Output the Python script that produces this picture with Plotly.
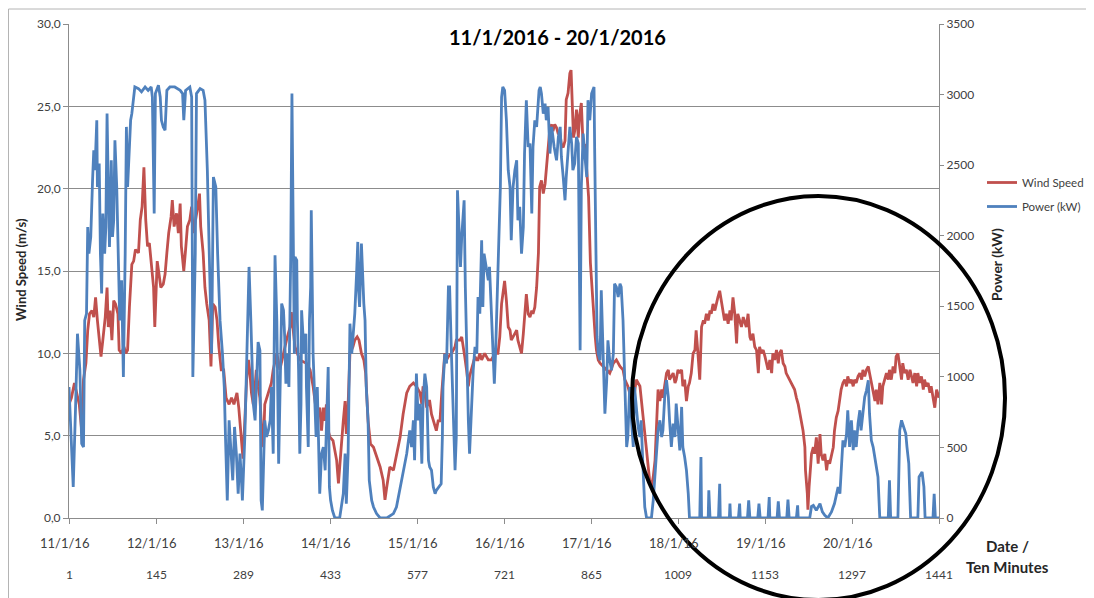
import plotly.graph_objects as go

# ---------------- DATA ----------------
# x = ten-minute sample number (1 .. 1441)
power_idx = [
    1, 4, 8, 12, 15, 19, 22, 25, 27, 30,
    32, 34, 37, 40, 42, 44, 47, 48, 51, 53,
    55, 57, 60, 62, 64, 66, 68, 71, 73, 75,
    77, 80, 83, 85, 88, 91, 94, 96, 98, 100,
    103, 105, 108, 110, 116, 121, 127, 132, 137, 139,
    142, 144, 149, 152, 154, 157, 160, 163, 168, 176,
    185, 189, 191, 194, 201, 204, 206, 210, 212, 218,
    223, 226, 230, 235, 237, 240, 244, 247, 251, 255,
    258, 260, 263, 266, 269, 272, 275, 278, 281, 284,
    287, 288, 292, 295, 299, 302, 304, 306, 309, 311,
    314, 317, 319, 321, 323, 325, 328, 331, 334, 336,
    339, 341, 342, 345, 346, 348, 351, 353, 356, 358,
    360, 362, 365, 368, 370, 372, 374, 375, 378, 379,
    381, 383, 385, 386, 389, 390, 393, 394, 397, 399,
    401, 402, 405, 407, 410, 412, 414, 416, 419, 422,
    425, 427, 430, 432, 434, 437, 441, 449, 453, 455,
    458, 460, 463, 466, 469, 471, 474, 477, 479, 480,
    482, 485, 487, 489, 491, 493, 496, 498, 502, 505,
    510, 516, 527, 538, 543, 549, 554, 560, 565, 568,
    571, 573, 576, 579, 582,
    585, 587, 590, 593, 596, 598, 601, 604, 607, 609,
    613, 617, 619, 620, 623, 626, 629, 631, 634, 637,
    640, 642, 644, 646, 649, 651, 653, 655, 657, 659,
    662, 664, 667, 670, 673, 676, 678, 681, 684, 686,
    688, 690, 693, 695, 697, 699, 701, 705, 707, 710,
    712, 715, 717, 719, 722, 725, 728, 731, 733, 736,
    739, 742, 744, 747, 750, 753, 755, 758, 761, 764,
    767, 769, 772, 775, 779, 781, 783, 786, 789, 791,
    794, 797, 800, 804, 808, 811, 814, 816, 819, 822,
    824, 827, 830, 833, 835, 838, 841, 844, 845, 847,
    849, 852, 855, 858, 860, 863, 866,
    870, 871, 873, 875, 877, 880, 882, 884, 886, 888,
    891, 893, 896, 899, 902, 904, 907, 910, 913, 915,
    918, 921, 924, 926, 929, 932, 935, 937, 940, 943,
    946, 948, 951, 954, 957, 965, 968, 971, 973, 976,
    979, 982, 984, 987, 990, 993, 995, 998, 1001, 1004,
    1006, 1009, 1012, 1015, 1017, 1020, 1023, 1026, 1028, 1045,
    1047, 1048, 1059, 1060, 1062, 1076, 1078, 1079, 1094, 1095,
    1096, 1109, 1111, 1112, 1124, 1126, 1128, 1141, 1143, 1145,
    1158, 1160, 1161,
    1173, 1175, 1177, 1189, 1191, 1193, 1205, 1207, 1208, 1227,
    1230, 1233, 1238, 1244, 1248, 1252, 1257, 1263, 1268, 1274,
    1277, 1279, 1282, 1285, 1288, 1290, 1293, 1296, 1299, 1301,
    1304, 1307, 1310, 1312, 1315, 1318, 1321, 1324, 1326, 1329,
    1332, 1335, 1337, 1340, 1343, 1357, 1359, 1361, 1373, 1376,
    1379, 1383, 1386, 1388, 1391, 1394, 1406, 1408, 1411, 1413,
    1416, 1418, 1431, 1433, 1435, 1441,
]
power_kw = [
    928, 574, 220, 810, 1306, 1046, 527, 503, 1400, 1448,
    2062, 1873, 1991, 2393, 2605, 2464, 2818, 2345, 2511, 1873,
    1590, 2157, 1873, 2062, 2865, 2345, 1920, 2534, 1991, 2109,
    2676, 2345, 1873, 1400, 1684, 999, 1873, 2771, 2345, 2534,
    2818, 2865, 3007, 3054, 3042, 3019, 3054, 3030, 3054, 2983,
    2157, 3007, 3066, 2983, 2818, 2771, 2747, 3030, 3054, 3054,
    3030, 3007, 2818, 3030, 3054, 2983, 999, 1873, 3007, 3042,
    3030, 2960, 2464, 1400, 1164, 2416, 2345, 1873, 1400, 1164,
    928, 574, 125, 692, 479, 267, 645, 456, 172, 456,
    220, 125, 574, 1046, 1779, 1401, 1046, 810, 692, 928,
    1247, 1188, 125, 54, 503, 692, 574, 621, 692, 928,
    456, 1353, 1861, 1401, 928, 385, 1046, 1519, 1472, 1283,
    952, 1164, 928, 1849, 3007, 1873, 1164, 1849, 1826, 1401,
    1046, 456, 810, 1472, 1283, 1164, 1306, 928, 503, 1401,
    1637, 2180, 1164, 928, 574, 928, 456, 172, 456, 503,
    338, 574, 1070, 220, 125, 54, 0, 0, 102, 172,
    456, 102, 456, 1377, 1164, 1283, 1448, 1731, 1956, 1637,
    1495, 1944, 1684, 1519, 1401, 928, 692, 267, 125, 78,
    31, 0, 0, 31, 78, 220, 338, 456, 621, 503,
    692, 409, 1023, 692, 810,
    385, 810, 1023, 928, 409, 361, 338, 220, 172, 196,
    220, 243, 574, 928, 1164, 1094, 1637, 1637, 1164, 692,
    338, 574, 2322, 2109, 1779, 1991, 2109, 2251, 1637, 1164,
    692, 456, 810, 1046, 1212, 1164, 1566, 1448, 1968, 1495,
    1873, 1826, 1731, 1684, 1779, 1542, 1283, 952, 1164, 1637,
    1920, 2345, 2983, 3054, 3030, 2818, 2464, 2345, 1968, 2345,
    2464, 2534, 2109, 2204, 1873, 2062, 2582, 2960, 2629, 2653,
    2157, 2629, 2818, 2771, 3030, 3054, 3007, 2865, 2936, 2818,
    2912, 2582, 2771, 2629, 2534, 2700, 2771, 2558, 2416, 2251,
    2416, 2582, 2771, 2653, 2464, 2511, 2700, 2653, 1873, 1188,
    2345, 2723, 2558, 2416, 2960, 2818, 3007,
    3054, 2629, 1873, 1283, 1164, 1117, 1613, 1283, 928, 739,
    976, 1259, 1117, 1046, 1164, 1660, 1637, 1566, 1660, 1637,
    1401, 928, 503, 574, 928, 692, 503, 928, 763, 645,
    574, 692, 361, 78, 0, 0, 125, 291, 456, 621,
    692, 574, 621, 857, 976, 857, 692, 503, 668, 574,
    810, 621, 479, 787, 503, 432, 338, 172, 0, 0,
    432, 0, 0, 196, 0, 0, 243, 0, 0, 102,
    0, 0, 102, 0, 0, 125, 0, 0, 102, 0,
    0, 149, 0,
    0, 118, 0, 0, 130, 0, 0, 90, 0, 0,
    83, 90, 54, 102, 43, 19, 0, 43, 102, 220,
    172, 314, 550, 503, 598, 763, 503, 692, 480, 621,
    503, 669, 763, 621, 739, 857, 905, 976, 739, 550,
    503, 432, 361, 291, 0, 0, 267, 0, 0, 621,
    692, 645, 598, 503, 385, 0, 0, 291, 314, 326,
    220, 0, 0, 172, 0, 0,
]

wind_idx = [
    1, 5, 10, 14, 18, 22, 25, 29, 32, 35,
    39, 42, 45, 48, 51, 54, 57, 61, 64, 66,
    69, 72, 75, 78, 82, 84, 88, 92, 95, 98,
    101, 105, 108, 111, 116, 119, 122, 125, 128, 131,
    134, 138, 141, 143, 147, 150, 153, 157, 160, 163,
    166, 170, 172, 175, 179, 182, 185, 187, 191, 194,
    197, 201, 204, 207, 211, 214, 217, 219, 223, 226,
    229, 233, 236, 239, 243, 246, 249, 253, 257, 261,
    266, 270, 274, 279, 282, 286, 289,
    292, 295, 298, 300, 303, 306, 309, 311, 314, 317,
    320, 323, 325, 328, 331, 334, 336, 339, 345, 350,
    356, 361, 367, 369, 375, 383, 394, 400, 405, 411,
    414, 416, 419, 422, 425, 427, 430, 433, 438, 444,
    447, 449, 452, 455, 458, 460, 463, 466, 471, 474,
    478, 481, 485, 489, 492, 496, 500, 505, 510, 516,
    521, 524, 527, 532, 538, 543, 549, 554, 560, 565,
    571, 576,
    579, 582, 585, 587, 590, 593, 596, 598, 601, 604,
    607, 609, 612, 615, 618, 620, 623, 626, 629, 634,
    640, 642, 648, 651, 653, 656, 659, 662, 664, 667,
    670, 673, 676, 678, 681, 684, 689, 695, 700, 706,
    711, 714, 717, 720, 722, 725, 728, 731, 733, 736,
    739, 742, 744, 747, 750, 753, 755, 758, 761, 764,
    767, 769, 772, 775, 778, 780, 783, 786, 789, 791,
    794, 797, 800, 802, 805, 808, 811, 813, 816, 819,
    822, 824, 827, 830, 832, 834, 836, 838, 841, 844,
    846, 849, 852, 855, 858, 861, 864, 868,
    872, 874, 877, 880, 885, 891, 896, 902, 907, 913,
    918, 921, 924, 926, 929, 932, 935, 937, 940, 943,
    946, 948, 951, 954, 957, 960, 962, 965, 968, 971,
    973, 976, 979, 982, 984, 987, 990, 993, 995, 998,
    1001, 1004, 1006, 1009, 1012, 1015, 1017, 1020, 1023, 1026,
    1028, 1031, 1034, 1037, 1039, 1042, 1045, 1048, 1051, 1053,
    1056, 1059, 1062, 1064, 1067, 1070, 1073, 1075, 1078, 1081,
    1084, 1086, 1089, 1092, 1095, 1097, 1100, 1103, 1106, 1108,
    1111, 1114, 1117, 1119, 1122, 1125, 1128, 1130, 1133, 1136,
    1139, 1142, 1144, 1147, 1150, 1153, 1155,
    1158, 1161, 1164, 1166, 1169, 1172, 1175, 1177, 1180, 1183,
    1186, 1188, 1191, 1194, 1197, 1199, 1202, 1205, 1208, 1211,
    1213, 1216, 1219, 1220, 1223, 1224, 1226, 1228, 1230, 1233,
    1235, 1238, 1241, 1244, 1246, 1249, 1252, 1255, 1257, 1260,
    1263, 1266, 1268, 1271, 1274, 1277, 1279, 1282, 1285, 1288,
    1290, 1293, 1296, 1299, 1301, 1304, 1307, 1310, 1313, 1315,
    1318, 1321, 1324, 1326, 1329, 1332, 1335, 1337, 1340, 1343,
    1346, 1348, 1351, 1354, 1357, 1359, 1362, 1365, 1368, 1370,
    1373, 1376, 1379, 1381, 1384, 1387, 1390, 1393, 1395, 1398,
    1401, 1404, 1406, 1409, 1412, 1415, 1417, 1420, 1423, 1426,
    1428, 1431, 1434, 1437, 1441,
]
wind_speed = [
    6.9, 7.3, 8.2, 7.6, 6.9, 5.3, 8.4, 9.4, 11.4, 12.4,
    12.6, 12.2, 13.4, 12.0, 10.8, 9.8, 10.8, 12.2, 14.0, 11.6,
    12.6, 10.8, 13.2, 13.0, 12.4, 10.2, 10.0, 10.4, 10.0, 10.2,
    12.8, 15.4, 15.6, 16.3, 16.1, 18.1, 18.9, 21.3, 18.1, 16.5,
    16.7, 15.2, 14.0, 11.6, 15.6, 14.8, 14.0, 14.2, 14.8, 16.1,
    17.3, 18.3, 19.3, 17.7, 18.5, 17.3, 19.1, 16.5, 15.0, 16.3,
    17.7, 18.1, 18.9, 17.3, 18.1, 18.9, 19.7, 17.7, 16.1, 14.0,
    13.0, 12.0, 9.2, 13.0, 12.8, 12.0, 10.4, 9.0, 9.0, 7.3,
    6.9, 7.3, 6.9, 7.6, 6.7, 4.9, 3.6,
    5.9, 8.4, 9.6, 9.0, 7.6, 6.9, 8.0, 9.0, 8.0, 7.3,
    5.3, 4.3, 6.9, 7.3, 7.6, 8.0, 8.2, 9.0, 10.0, 9.0,
    10.0, 10.8, 11.6, 12.5, 10.4, 9.6, 9.4, 9.0, 8.0, 6.3,
    6.5, 6.7, 5.3, 6.7, 5.9, 6.9, 5.3, 4.9, 4.7, 3.5,
    2.1, 3.3, 4.5, 5.9, 7.1, 5.1, 6.9, 10.0, 10.4, 10.8,
    11.0, 10.8, 10.0, 9.6, 8.8, 5.9, 4.5, 4.3, 3.7, 3.1,
    2.3, 1.1, 1.9, 3.1, 2.9, 3.9, 4.9, 6.3, 7.6, 8.0,
    8.2, 8.0,
    7.8, 7.6, 6.9, 8.0, 7.6, 6.7, 7.1, 7.1, 6.3, 5.9,
    5.5, 5.3, 5.9, 5.9, 7.6, 8.4, 10.0, 9.6, 9.8, 10.0,
    10.4, 10.8, 10.8, 11.0, 10.4, 9.8, 9.0, 8.0, 8.6, 9.0,
    9.4, 9.8, 9.6, 9.6, 10.0, 9.6, 10.0, 9.6, 9.6, 10.0,
    10.0, 11.0, 13.0, 14.0, 14.4, 13.2, 11.6, 11.4, 10.8, 11.0,
    11.2, 11.4, 10.8, 10.4, 10.0, 11.2, 12.4, 13.6, 12.4, 12.2,
    12.6, 12.4, 12.8, 14.0, 16.1, 20.1, 20.5, 19.7, 20.3, 21.1,
    22.1, 23.7, 23.9, 23.5, 23.9, 23.7, 23.3, 23.5, 22.7, 22.5,
    22.9, 25.4, 25.8, 27.0, 27.2, 25.0, 23.1, 23.5, 24.8, 23.1,
    24.4, 25.2, 22.5, 22.7, 21.1, 19.5, 15.5, 13.0,
    11.0, 10.2, 9.6, 9.4, 9.2, 9.0, 8.8, 9.4, 9.6, 9.2,
    9.0, 8.4, 8.2, 8.0, 7.6, 7.3, 8.0, 7.6, 8.4, 8.2,
    8.0, 7.3, 6.3, 5.3, 3.9, 3.1, 2.3, 1.9, 2.5, 3.5,
    5.5, 7.8, 7.1, 7.8, 7.3, 8.0, 8.8, 9.0, 8.4, 8.6,
    8.8, 8.2, 8.4, 9.0, 8.8, 9.0, 8.0, 8.4, 7.1, 8.0,
    8.2, 8.8, 10.0, 10.2, 11.4, 10.0, 8.4, 11.6, 12.0, 11.8,
    12.4, 12.0, 12.6, 12.4, 13.0, 12.6, 13.2, 13.4, 13.8, 13.2,
    12.6, 12.0, 12.4, 11.8, 12.6, 12.0, 13.4, 12.4, 10.6, 12.4,
    12.0, 11.6, 12.2, 12.0, 11.6, 12.4, 11.0, 10.8, 11.2, 10.4,
    10.2, 8.8, 10.4, 10.0, 10.2, 9.8, 9.4,
    9.0, 9.6, 8.8, 10.0, 9.6, 10.2, 9.4, 10.0, 10.2, 9.4,
    9.2, 8.8, 8.6, 8.4, 8.2, 8.0, 7.8, 7.3, 6.9, 6.3,
    5.9, 5.3, 4.3, 2.9, 1.5, 0.5, 1.9, 3.3, 3.9, 4.3,
    3.9, 4.9, 3.3, 5.1, 3.9, 3.5, 3.9, 2.9, 3.5, 3.3,
    3.9, 4.3, 5.3, 6.1, 6.5, 7.3, 7.8, 8.2, 8.4, 8.0,
    8.6, 8.2, 8.4, 8.0, 8.4, 8.2, 8.6, 8.8, 8.4, 9.0,
    8.6, 9.0, 9.2, 8.8, 8.2, 7.8, 7.1, 7.8, 6.9, 8.2,
    6.9, 8.0, 8.4, 8.8, 8.4, 9.0, 8.4, 9.2, 8.8, 9.8,
    10.0, 9.0, 8.4, 9.4, 8.8, 9.0, 8.4, 9.0, 8.6, 8.2,
    8.8, 8.0, 8.8, 8.2, 8.6, 7.8, 8.4, 8.0, 8.2, 7.6,
    8.0, 7.3, 6.7, 7.8, 7.3,
]

tick_index = [1, 145, 289, 433, 577, 721, 865, 1009, 1153, 1297, 1441]
tick_dates = ["11/1/16", "12/1/16", "13/1/16", "14/1/16", "15/1/16",
              "16/1/16", "17/1/16", "18/1/16", "19/1/16", "20/1/16"]
left_ticks = [0, 5, 10, 15, 20, 25, 30]
left_tick_text = ["0,0", "5,0", "10,0", "15,0", "20,0", "25,0", "30,0"]
right_ticks = [0, 500, 1000, 1500, 2000, 2500, 3000, 3500]

assert len(power_idx) == len(power_kw)
assert len(wind_idx) == len(wind_speed)

# ---------------- FIGURE ----------------
FONT = "Lato"
TXT = "#404040"
GRID = "#8c8c8c"
RED = "#C0504D"
BLUE = "#4F81BD"

fig = go.Figure()
fig.add_trace(go.Scatter(x=wind_idx, y=wind_speed, mode="lines", name="Wind Speed",
                         line=dict(color=RED, width=2.8), legendgroup="a", yaxis="y"))
fig.add_trace(go.Scatter(x=power_idx, y=power_kw, mode="lines", name="Power (kW)",
                         line=dict(color=BLUE, width=2.8), legendgroup="b", yaxis="y2"))

# the page body adds an 8 px offset; the figure is sized so that it ends at the window edge
OFF = 8
W, H = 1094 - OFF, 598 - OFF
L, R, T, B = 61, 155, 16, 80
pw, ph = W - L - R, H - T - B


def px(x):
    """window pixel x -> paper x"""
    return (x - OFF - L) / pw


def py(y):
    """window pixel y -> paper y"""
    return (H - B - (y - OFF)) / ph


def note(x, y, text, size, color=TXT, xref="paper", angle=0, xshift=0):
    return dict(x=x, y=py(y), xref=xref, yref="paper", text=text, showarrow=False,
                xanchor="center", yanchor="middle", textangle=angle, xshift=xshift,
                font=dict(family=FONT, size=size, color=color))


annotations = []
for i, d in zip(tick_index, tick_dates):
    annotations.append(note(i, 543, d, 13, xref="x", xshift=-5))
for i in tick_index:
    annotations.append(note(i, 574, str(i), 12, xref="x"))
annotations += [
    note(px(557), 37, "<b>11/1/2016 - 20/1/2016</b>", 20, color="#000000"),
    note(px(21), 270, "<b>Wind Speed (m/s)</b>", 13, color="#262626", angle=-90),
    note(px(996), 265, "<b>Power (kW)</b>", 14, color="#262626", angle=-90),
    note(px(1007), 546, "<b>Date /</b>", 15, color="#262626"),
    note(px(1007), 567, "<b>Ten Minutes</b>", 15, color="#262626"),
]

shapes = [
    # light outer chart frame (left and top edges visible)
    dict(type="rect", xref="paper", yref="paper", x0=px(8.5), x1=px(1120), y0=py(640), y1=py(9),
         line=dict(color="#b4b4b4", width=1), layer="below"),
    dict(type="circle", xref="paper", yref="paper", x0=px(632), x1=px(1005), y0=py(600), y1=py(196),
         line=dict(color="#000000", width=4)),
]

fig.update_layout(
    width=W, height=H,
    margin=dict(l=L, r=R, t=T, b=B, autoexpand=False),
    paper_bgcolor="white", plot_bgcolor="white",
    font=dict(family=FONT, color=TXT),
    showlegend=True,
    legend=dict(x=px(982), y=py(168), xanchor="left", yanchor="top",
                font=dict(family=FONT, size=11.5, color=TXT), tracegroupgap=5,
                bgcolor="rgba(0,0,0,0)", borderwidth=0),
    xaxis=dict(range=[1, 1441], tickvals=tick_index, showticklabels=False, ticks="outside",
               ticklen=5, tickcolor=GRID, showgrid=False, zeroline=False, showline=True,
               linecolor=GRID, linewidth=1),
    yaxis=dict(range=[0, 30], tickvals=left_ticks, ticktext=left_tick_text, ticks="outside",
               ticklen=5, tickcolor=GRID, showgrid=True, gridcolor=GRID, gridwidth=1,
               zeroline=False, showline=True, linecolor=GRID,
               tickfont=dict(family=FONT, size=12, color=TXT)),
    yaxis2=dict(range=[0, 3500], tickvals=right_ticks, overlaying="y", side="right",
                ticks="outside", ticklen=4, tickcolor=GRID, showgrid=False, zeroline=False,
                showline=True, linecolor=GRID, tickfont=dict(family=FONT, size=12, color=TXT)),
    annotations=annotations,
    shapes=shapes,
)

fig.write_html("out.html")
